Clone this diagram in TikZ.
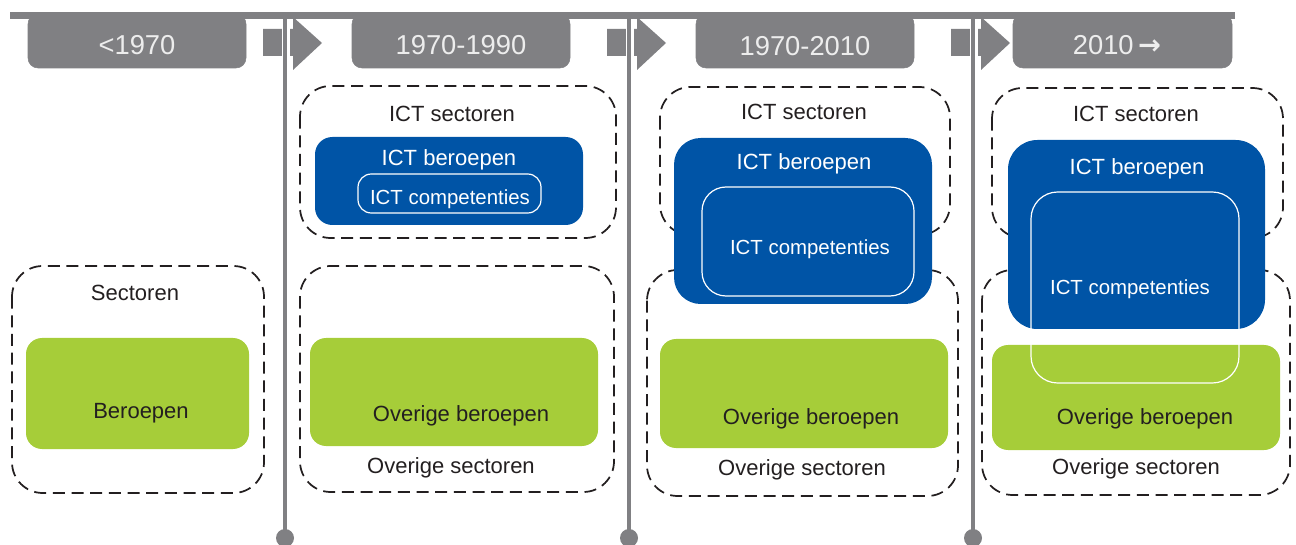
\documentclass[tikz,border=0pt]{standalone}
\usepackage{fontspec}
\setmainfont{Liberation Sans}
\newfontfamily\arrowfont{DejaVu Sans}
\usepackage{xcolor}

\definecolor{hdrgrey}{RGB}{128,128,131}
\definecolor{ictblue}{RGB}{0,84,166}
\definecolor{overgreen}{RGB}{166,205,57}
\definecolor{inktext}{RGB}{35,31,32}

\begin{document}
\begin{tikzpicture}[x=0.75pt,y=0.75pt,yscale=-1,xscale=1,
  sectorbox/.style={draw=inktext, line width=1.3pt, dash pattern=on 9pt off 5pt},
  greenbox/.style={fill=overgreen, draw=none},
  bluebox/.style={fill=ictblue, draw=none},
  compbox/.style={draw=white, line width=0.9pt},
  lbl/.style={inner sep=0.75pt, font=\fontsize{16.5}{19}\selectfont, text=inktext},
  lblw/.style={inner sep=0.75pt, font=\fontsize{16.5}{19}\selectfont, text=white},
  lblc/.style={inner sep=0.75pt, font=\fontsize{15.3}{18}\selectfont, text=white},
  hdr/.style={inner sep=0.75pt, font=\fontsize{20.5}{24}\selectfont, text=white!93!black}]

\useasboundingbox (0,0) rectangle (1296,545);

% tijdbalk bovenaan
\draw [hdrgrey, rounded corners=7.5pt, fill=hdrgrey] (28,14) rectangle (246,68);
\draw [hdrgrey, rounded corners=7.5pt, fill=hdrgrey] (352,14) rectangle (570,68);
\draw [hdrgrey, rounded corners=7.5pt, fill=hdrgrey] (696,14) rectangle (914,68);
\draw [hdrgrey, rounded corners=7.5pt, fill=hdrgrey] (1013,14) rectangle (1232,68);
\fill [hdrgrey] (10,12) rectangle (1235,19);

% pijlen tussen de perioden
\fill [hdrgrey] (263,29) -- (293,29) -- (293,17) -- (322,43) -- (293,70) -- (293,56) -- (263,56) -- cycle ;
\fill [hdrgrey] (607,29) -- (637,29) -- (637,17) -- (666,43) -- (637,70) -- (637,56) -- (607,56) -- cycle ;
\fill [hdrgrey] (951,29) -- (981,29) -- (981,17) -- (1010,43) -- (981,70) -- (981,56) -- (951,56) -- cycle ;

% verticale lijnen
\draw [white, line width=6.5pt] (286,19) -- (286,72) ;
\draw [white, line width=6.5pt] (630,19) -- (630,72) ;
\draw [white, line width=6.5pt] (974,19) -- (974,72) ;
\draw [hdrgrey, line width=3.5pt] (285,18) -- (285,535) ;
\draw [hdrgrey, line width=3.5pt] (629,18) -- (629,535) ;
\draw [hdrgrey, line width=3.5pt] (973,18) -- (973,535) ;
\fill [hdrgrey] (285,538) circle [radius=9] ;
\fill [hdrgrey] (629,538) circle [radius=9] ;
\fill [hdrgrey] (973,538) circle [radius=9] ;

\node (hdra) at (137,45) [hdr] {<1970};
\node (hdrb) at (461,45) [hdr] {1970-1990};
\node (hdrc) at (805,46) [hdr] {1970-2010};
\node (hdrd) at (1117,45) [hdr] {2010\,{\arrowfont\bfseries →}};

% < 1970
\draw [sectorbox, rounded corners=23pt] (12,266) rectangle (264,493) ;
\draw [greenbox, rounded corners=12pt] (26,338) rectangle (249,449) ;
\node (sect) at (135,293) [lbl] {Sectoren};
\node (ber) at (141,413) [lbl] {Beroepen};

% 1970-1990
\draw [sectorbox, rounded corners=23pt] (300,86) rectangle (616,238) ;
\draw [sectorbox, rounded corners=23pt] (300,266) rectangle (614,492) ;
\draw [greenbox, rounded corners=12pt] (310,338) rectangle (598,446) ;
\draw [bluebox, rounded corners=13pt] (315,137) rectangle (583,225) ;
\draw [compbox, rounded corners=10pt] (358,174) rectangle (541,213) ;
\node (ictsb) at (452,114) [lbl] {ICT sectoren};
\node (ictbb) at (449,160) [lblw] {ICT beroepen};
\node (ictcb) at (450,199) [lblc] {ICT competenties};
\node (ovbb) at (461,416) [lbl] {Overige beroepen};
\node (ovsb) at (451,468) [lbl] {Overige sectoren};

% 1970-2010
\draw [sectorbox, rounded corners=23pt] (660,87) rectangle (950,235) ;
\draw [sectorbox, rounded corners=23pt] (647,270) rectangle (958,496) ;
\draw [greenbox, rounded corners=12pt] (660,339) rectangle (948,448) ;
\draw [bluebox, rounded corners=20pt] (674,138) rectangle (932,304) ;
\draw [compbox, rounded corners=18pt] (702,187) rectangle (914,296) ;
\node (ictsc) at (804,112) [lbl] {ICT sectoren};
\node (ictbc) at (804,164) [lblw] {ICT beroepen};
\node (ictcc) at (810,249) [lblc] {ICT competenties};
\node (ovbc) at (811,419) [lbl] {Overige beroepen};
\node (ovsc) at (802,470) [lbl] {Overige sectoren};

% 2010 ->
\draw [sectorbox, rounded corners=23pt] (992,88) rectangle (1283,238) ;
\draw [sectorbox, rounded corners=23pt] (982,270) rectangle (1290,495) ;
\draw [greenbox, rounded corners=12pt] (992,345) rectangle (1280,450) ;
\draw [bluebox, rounded corners=22pt] (1008,140) rectangle (1265,329) ;
\draw [compbox, rounded corners=20pt] (1031,192) rectangle (1239,383) ;
\node (ictsd) at (1136,114) [lbl] {ICT sectoren};
\node (ictbd) at (1137,169) [lblw] {ICT beroepen};
\node (ictcd) at (1130,289) [lblc] {ICT competenties};
\node (ovbd) at (1145,419) [lbl] {Overige beroepen};
\node (ovsd) at (1136,469) [lbl] {Overige sectoren};

\end{tikzpicture}
\end{document}
